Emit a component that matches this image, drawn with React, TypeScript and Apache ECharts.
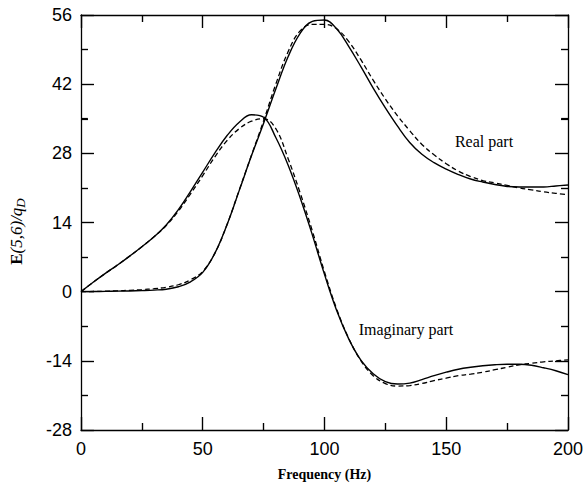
import React, { useEffect, useRef } from "react";
import * as echarts from "echarts";

const freq = [0, 5, 10, 15, 20, 25, 30, 35, 40, 45, 50, 55, 60, 65, 70, 75, 80, 85, 90, 95, 100, 105, 110, 115, 120, 125, 130, 135, 140, 145, 150, 155, 160, 165, 170, 175, 180, 185, 190, 195, 200];

const realSolid = [0, 0.02, 0.05, 0.1, 0.15, 0.22, 0.32, 0.5, 1.0, 2.0, 3.9, 7.8, 13.6, 20.5, 27.5, 34.1, 41, 47.5, 52.3, 54.7, 55, 53.2, 49.6, 45.5, 41.2, 37.2, 33.5, 30.2, 27.8, 26.1, 24.8, 23.7, 22.8, 22.2, 21.7, 21.3, 21.2, 21.2, 21.2, 21.4, 21.6];
const realDashed = [0, 0.03, 0.1, 0.18, 0.28, 0.42, 0.6, 0.9, 1.4, 2.4, 4.1, 7.8, 13.6, 20.6, 27.6, 34.6, 42, 48.5, 52.8, 54.1, 54.1, 53.2, 50.6, 46.9, 42.8, 39, 35.6, 32.6, 29.8, 27.7, 25.9, 24.4, 23.3, 22.5, 22, 21.5, 21, 20.6, 20.2, 19.9, 19.6];

const imagSolid = [0, 1.9, 3.7, 5.4, 7.2, 9.1, 11.1, 13.5, 16.6, 20.3, 24.2, 28.1, 31.6, 34.3, 35.8, 35.3, 31.2, 25.7, 19, 11.5, 3.5, -3.8, -9.6, -13.9, -16.6, -18.2, -18.7, -18.5, -17.8, -17, -16.3, -15.7, -15.3, -15, -14.8, -14.7, -14.7, -14.9, -15.4, -16, -16.8];
const imagDashed = [0, 1.9, 3.7, 5.4, 7.2, 9.1, 11.1, 13.4, 16.3, 19.8, 23.5, 27.3, 30.6, 33, 34.5, 35, 33, 27, 20, 12.3, 4, -3.5, -9.5, -14, -17, -18.6, -19.1, -19, -18.6, -18, -17.5, -17, -16.7, -16.3, -15.8, -15.3, -14.8, -14.5, -14.2, -14, -13.8];

const yTicks = { min: -28, max: 56, interval: 14 };
const xTicks = { min: 0, max: 200, interval: 50 };

const pairs = (vals: number[]) => freq.map((f, i) => [f, vals[i]]);

// tick values: major at each interval, one minor in between
function tickValues(r: { min: number; max: number; interval: number }) {
  const out: { v: number; major: boolean }[] = [];
  const half = r.interval / 2;
  for (let i = 0; r.min + i * half <= r.max + 1e-9; i++) out.push({ v: r.min + i * half, major: i % 2 === 0 });
  return out;
}

const W = 586;
const H = 486;
const G = { left: 76, right: 15, top: 15, bottom: 53 };
const MAJOR = 13;
const MINOR = 7;

export default function App() {
  const ref = useRef<HTMLDivElement>(null);
  useEffect(() => {
    if (!ref.current) return;
    const chart = echarts.init(ref.current, null, { renderer: "svg" });
    const serif = "Liberation Serif, Times New Roman";
    const mkLine = () => ({ show: true, onZero: false, lineStyle: { color: "#000", width: 1.3 } });
    const mkTick = () => ({ show: true, inside: true, length: MAJOR, lineStyle: { color: "#000", width: 1.2 } });
    const mkMinor = () => ({ show: true, splitNumber: 2, length: MINOR, lineStyle: { color: "#000", width: 1.2 } });
    const lineBase = { type: "line", showSymbol: false, symbol: "none", smooth: 0.4, clip: true };

    // tick segments as markLine pairs (length converted from px to data units via the grid size)
    const unitY = (yTicks.max - yTicks.min) / (H - G.top - G.bottom);
    const unitX = (xTicks.max - xTicks.min) / (W - G.left - G.right);
    const tickSegs: any[] = [];
    tickValues(xTicks).forEach(({ v, major }) => {
      const d = (major ? MAJOR : MINOR) * unitY;
      tickSegs.push([{ coord: [v, yTicks.min] }, { coord: [v, yTicks.min + d] }]);
      tickSegs.push([{ coord: [v, yTicks.max] }, { coord: [v, yTicks.max - d] }]);
    });
    tickValues(yTicks).forEach(({ v, major }) => {
      const d = (major ? MAJOR : MINOR) * unitX;
      tickSegs.push([{ coord: [xTicks.min, v] }, { coord: [xTicks.min + d, v] }]);
      tickSegs.push([{ coord: [xTicks.max, v] }, { coord: [xTicks.max - d, v] }]);
    });

    chart.setOption({
      animation: false,
      backgroundColor: "#fff",
      grid: { left: G.left, right: G.right, top: G.top, bottom: G.bottom },
      xAxis: [
        {
          type: "value", ...xTicks, position: "bottom",
          axisLine: mkLine(), axisTick: mkTick(), minorTick: mkMinor(), splitLine: { show: false },
          axisLabel: { color: "#000", fontSize: 18, fontFamily: "Liberation Sans, Arial", margin: 10 },
          name: "Frequency (Hz)", nameLocation: "middle", nameGap: 37,
          nameTextStyle: { color: "#000", fontSize: 14, fontWeight: "bold", fontFamily: serif },
        },
        {
          type: "value", ...xTicks, position: "top",
          axisLine: mkLine(), axisTick: mkTick(), minorTick: mkMinor(), splitLine: { show: false },
          axisLabel: { show: false },
        },
      ],
      yAxis: [
        {
          type: "value", ...yTicks, position: "left",
          axisLine: mkLine(), axisTick: mkTick(), minorTick: mkMinor(), splitLine: { show: false },
          axisLabel: { color: "#000", fontSize: 18, fontFamily: "Liberation Sans, Arial", margin: 9 },
          name: "{b|E}{i|(5,6)/q}{s|D}", nameLocation: "middle", nameGap: 54, nameRotate: 90,
          nameTextStyle: {
            color: "#000", fontFamily: serif, fontSize: 17, padding: [0, 18, 0, 0],
            rich: {
              b: { fontWeight: "bold", fontSize: 17, fontFamily: serif, color: "#000" },
              i: { fontStyle: "italic", fontSize: 17, fontFamily: serif, color: "#000" },
              s: { fontStyle: "italic", fontSize: 13, fontFamily: serif, color: "#000", padding: [8, 0, 0, 0] },
            },
          },
        },
        {
          type: "value", ...yTicks, position: "right",
          axisLine: mkLine(), axisTick: mkTick(), minorTick: mkMinor(), splitLine: { show: false },
          axisLabel: { show: false },
        },
      ],
      series: [
        {
          ...lineBase, name: "Real (solid)", data: pairs(realSolid), lineStyle: { color: "#000", width: 1.4, type: "solid" },
          markLine: {
            silent: true, animation: false, symbol: ["none", "none"], precision: 6,
            label: { show: false }, emphasis: { disabled: true },
            lineStyle: { color: "#000", width: 1.2, type: "solid" },
            data: tickSegs,
          },
        },
        { ...lineBase, name: "Real (dashed)", data: pairs(realDashed), lineStyle: { color: "#000", width: 1.3, type: [5, 3] } },
        { ...lineBase, name: "Imag (solid)", data: pairs(imagSolid), lineStyle: { color: "#000", width: 1.4, type: "solid" } },
        { ...lineBase, name: "Imag (dashed)", data: pairs(imagDashed), lineStyle: { color: "#000", width: 1.3, type: [5, 3] } },
      ],
      graphic: [
        { type: "text", x: 484, y: 141, silent: true, style: { text: "Real part", fill: "#000", font: "16px 'Liberation Serif', 'Times New Roman'", textAlign: "center", textVerticalAlign: "middle" } },
        { type: "text", x: 406, y: 329, silent: true, style: { text: "Imaginary part", fill: "#000", font: "16px 'Liberation Serif', 'Times New Roman'", textAlign: "center", textVerticalAlign: "middle" } },
      ],
    });
    return () => chart.dispose();
  }, []);
  return <div ref={ref} style={{ position: "fixed", left: 0, top: 0, width: W, height: H, background: "#fff" }} />;
}
